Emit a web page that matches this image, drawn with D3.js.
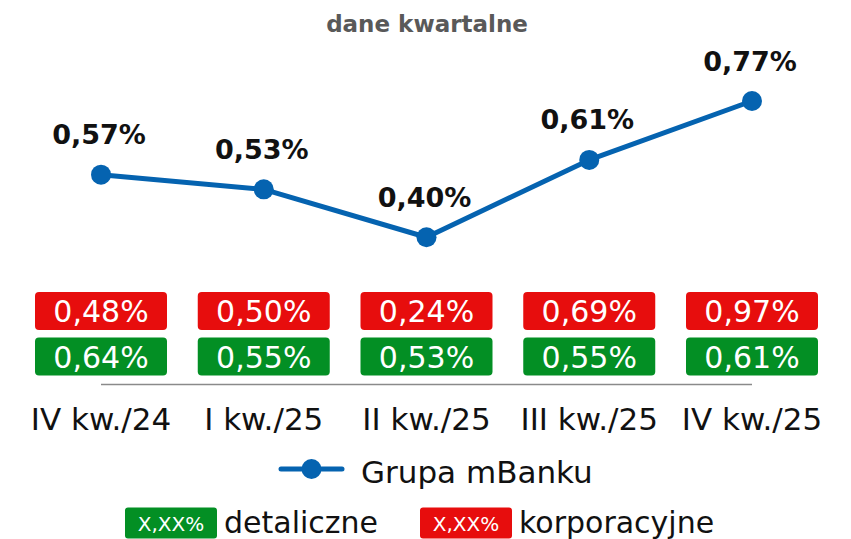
<!DOCTYPE html>
<html>
<head>
<meta charset="utf-8">
<script src="https://cdn.jsdelivr.net/npm/d3@7"></script>
<style>
  body { margin: 0; background: #fff; }
  svg text { font-family: "DejaVu Sans", sans-serif; }
</style>
</head>
<body>
<div id="chart"></div>
<script>
// quarters on the x axis
var categories = ["IV kw./24", "I kw./25", "II kw./25", "III kw./25", "IV kw./25"];
// Grupa mBanku (line)
var groupValues = [0.57, 0.53, 0.40, 0.61, 0.77];
// korporacyjne (red boxes)
var corporateValues = [0.48, 0.50, 0.24, 0.69, 0.97];
// detaliczne (green boxes)
var retailValues = [0.64, 0.55, 0.53, 0.55, 0.61];

var width = 851, height = 539;
var blue = "#0563b0", red = "#e70d0d", green = "#038f24";

var fmt = function(v) { return d3.format(".2f")(v).replace(".", ",") + "%"; };

var svg = d3.select("#chart").append("svg")
    .attr("width", width)
    .attr("height", height);

// scales
var x = d3.scalePoint().domain(categories).range([101, 752]);
var y = d3.scaleLinear().domain([0, 0.77]).range([384.5, 101]);

// title
svg.append("text")
    .attr("x", 427)
    .attr("y", 31.5)
    .attr("text-anchor", "middle")
    .style("font-size", "23px")
    .style("font-weight", "bold")
    .style("fill", "#595959")
    .text("dane kwartalne");

// baseline (spans first to last point)
svg.append("line")
    .attr("x1", x(categories[0]))
    .attr("x2", x(categories[categories.length - 1]))
    .attr("y1", y(0))
    .attr("y2", y(0))
    .style("stroke", "#8a8a8a")
    .style("stroke-width", 1.5);

// category labels
svg.append("g").selectAll("text")
    .data(categories)
  .enter().append("text")
    .attr("x", function(d) { return x(d); })
    .attr("y", 430)
    .attr("text-anchor", "middle")
    .style("font-size", "31px")
    .style("fill", "#111")
    .text(function(d) { return d; });

// line
var pts = categories.map(function(c, i) { return {c: c, v: groupValues[i]}; });
var line = d3.line()
    .x(function(d) { return x(d.c); })
    .y(function(d) { return y(d.v); });

svg.append("path")
    .datum(pts)
    .attr("d", line)
    .style("fill", "none")
    .style("stroke", blue)
    .style("stroke-width", 5)
    .style("stroke-linejoin", "round");

svg.append("g").selectAll("circle")
    .data(pts)
  .enter().append("circle")
    .attr("cx", function(d) { return x(d.c); })
    .attr("cy", function(d) { return y(d.v); })
    .attr("r", 10)
    .style("fill", blue);

svg.append("g").selectAll("text")
    .data(pts)
  .enter().append("text")
    .attr("x", function(d) { return x(d.c) - 2; })
    .attr("y", function(d) { return y(d.v) - 30.5; })
    .attr("text-anchor", "middle")
    .style("font-size", "27px")
    .style("font-weight", "bold")
    .style("fill", "#111")
    .text(function(d) { return fmt(d.v); });

// value boxes
function boxRow(values, top, color) {
  var g = svg.append("g").selectAll("g")
      .data(values)
    .enter().append("g")
      .attr("transform", function(d, i) { return "translate(" + x(categories[i]) + "," + top + ")"; });
  g.append("rect")
      .attr("x", -66)
      .attr("width", 132)
      .attr("height", 38)
      .attr("rx", 4)
      .style("fill", color);
  g.append("text")
      .attr("y", 30)
      .attr("text-anchor", "middle")
      .style("font-size", "30px")
      .style("fill", "#fff")
      .text(function(d) { return fmt(d); });
}
boxRow(corporateValues, 292, red);
boxRow(retailValues, 337.5, green);

// legend: line series
var lg = svg.append("g");
lg.append("line")
    .attr("x1", 281).attr("x2", 342)
    .attr("y1", 469).attr("y2", 469)
    .style("stroke", blue)
    .style("stroke-width", 5)
    .style("stroke-linecap", "round");
lg.append("circle")
    .attr("cx", 311.5).attr("cy", 469).attr("r", 10)
    .style("fill", blue);
lg.append("text")
    .attr("x", 361).attr("y", 483)
    .style("font-size", "31px")
    .style("fill", "#111")
    .text("Grupa mBanku");

// legend: boxes
var boxLegend = [
  {x: 125, color: green, label: "detaliczne"},
  {x: 420, color: red, label: "korporacyjne"}
];
var bl = svg.append("g").selectAll("g")
    .data(boxLegend)
  .enter().append("g")
    .attr("transform", function(d) { return "translate(" + d.x + ",507.5)"; });
bl.append("rect")
    .attr("width", 92)
    .attr("height", 31)
    .attr("rx", 3)
    .style("fill", function(d) { return d.color; });
bl.append("text")
    .attr("x", 46)
    .attr("y", 23)
    .attr("text-anchor", "middle")
    .style("font-size", "20px")
    .style("fill", "#fff")
    .text("X,XX%");
bl.append("text")
    .attr("x", 99)
    .attr("y", 25)
    .style("font-size", "30px")
    .style("fill", "#111")
    .text(function(d) { return d.label; });
</script>
</body>
</html>
